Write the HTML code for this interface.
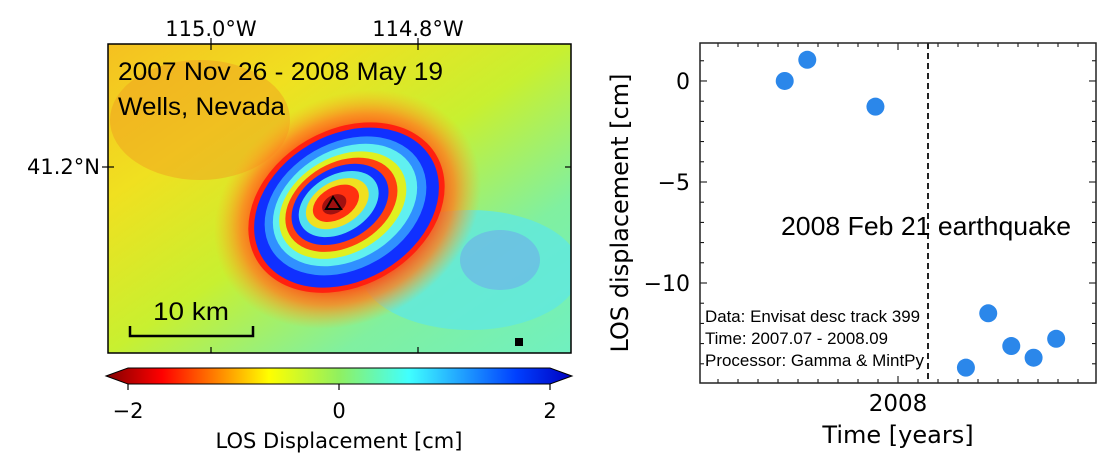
<!DOCTYPE html>
<html><head><meta charset="utf-8">
<style>
body{margin:0;background:#fff;}
svg{display:block;font-family:"DejaVu Sans","Liberation Sans",sans-serif;}
</style></head>
<body>
<svg id="fig" width="1110" height="471" viewBox="0 0 1110 471">
<defs>
  <linearGradient id="bg" x1="0" y1="0" x2="1" y2="1">
    <stop offset="0" stop-color="#f5c020"/>
    <stop offset="0.25" stop-color="#f0e020"/>
    <stop offset="0.5" stop-color="#c8f030"/>
    <stop offset="0.75" stop-color="#80f0a0"/>
    <stop offset="1" stop-color="#70f0c0"/>
  </linearGradient>
  <radialGradient id="halo" cx="0.5" cy="0.5" r="0.5">
    <stop offset="0.6" stop-color="#ff3010"/>
    <stop offset="0.8" stop-color="#ff8020" stop-opacity="0.8"/>
    <stop offset="1" stop-color="#ffb020" stop-opacity="0"/>
  </radialGradient>
  <linearGradient id="jet" x1="0" y1="0" x2="1" y2="0">
    <stop offset="0" stop-color="#800000"/>
    <stop offset="0.12" stop-color="#ff0000"/>
    <stop offset="0.35" stop-color="#ffff00"/>
    <stop offset="0.5" stop-color="#90f060"/>
    <stop offset="0.65" stop-color="#40ffff"/>
    <stop offset="0.88" stop-color="#0040ff"/>
    <stop offset="1" stop-color="#0000c0"/>
  </linearGradient>
  <clipPath id="mapclip"><rect x="108" y="44" width="463" height="309"/></clipPath>
</defs>

<g clip-path="url(#mapclip)">
  <rect x="108" y="44" width="463" height="309" fill="url(#bg)"/>
  <ellipse cx="470" cy="270" rx="110" ry="60" fill="#60e8e0" opacity="0.8"/>
  <ellipse cx="500" cy="260" rx="40" ry="30" fill="#70a0f0" opacity="0.5"/>
  <ellipse cx="200" cy="120" rx="90" ry="60" fill="#f0a020" opacity="0.5"/>
  <g transform="rotate(-30 345 205)">
    <ellipse cx="345" cy="210" rx="140" ry="112" fill="url(#halo)"/>
    <ellipse cx="345" cy="208" rx="104" ry="78" fill="#ff2010"/>
    <ellipse cx="345" cy="208" rx="98" ry="73" fill="#1030ff"/>
    <ellipse cx="345" cy="206" rx="86" ry="63" fill="#3090ff"/>
    <ellipse cx="345" cy="205" rx="77" ry="55" fill="#60f0f0"/>
    <ellipse cx="343" cy="204" rx="68" ry="48" fill="#e0f020"/>
    <ellipse cx="342" cy="203" rx="60" ry="42" fill="#ff4010"/>
    <ellipse cx="341" cy="202" rx="52" ry="36" fill="#1030ff"/>
    <ellipse cx="340" cy="201" rx="43" ry="29" fill="#50e0f0"/>
    <ellipse cx="339" cy="200" rx="34" ry="22" fill="#f0e020"/>
    <ellipse cx="338" cy="199" rx="25" ry="16" fill="#ff3010"/>
    <ellipse cx="336" cy="199" rx="13" ry="9" fill="#a01010"/>
  </g>
</g>
<rect x="108" y="44" width="463" height="309" fill="none" stroke="#000" stroke-width="1.5"/>
<g stroke="#000" stroke-width="1.2">
  <line x1="211" y1="44" x2="211" y2="50"/><line x1="418" y1="44" x2="418" y2="50"/>
  <line x1="211" y1="353" x2="211" y2="347"/><line x1="418" y1="353" x2="418" y2="347"/>
  <line x1="108" y1="167" x2="114" y2="167"/><line x1="571" y1="167" x2="565" y2="167"/>
  <line x1="102" y1="167" x2="108" y2="167"/>
  <line x1="211" y1="38" x2="211" y2="44"/><line x1="418" y1="38" x2="418" y2="44"/>
</g>
<text x="211" y="36" font-size="21" text-anchor="middle">115.0°W</text>
<text x="418" y="36" font-size="21" text-anchor="middle">114.8°W</text>
<text x="100" y="174" font-size="21" text-anchor="end">41.2°N</text>
<text x="118" y="80" font-size="25" font-family="Liberation Sans, sans-serif" textLength="325" lengthAdjust="spacingAndGlyphs">2007 Nov 26 - 2008 May 19</text>
<text x="118" y="115" font-size="25" font-family="Liberation Sans, sans-serif" textLength="167" lengthAdjust="spacingAndGlyphs">Wells, Nevada</text>
<polygon points="333,197 326,209 341,209" fill="none" stroke="#000" stroke-width="2"/>
<g>
  <text x="153" y="320" font-size="25" font-family="Liberation Sans, sans-serif" textLength="76" lengthAdjust="spacingAndGlyphs">10 km</text>
  <polyline points="130,326 130,336 253,336 253,326" fill="none" stroke="#000" stroke-width="2.5"/>
</g>
<rect x="515" y="338" width="8" height="8" fill="#000"/>

<g>
  <polygon points="106,376 128,368 550,368 572,376 550,384 128,384" fill="url(#jet)" stroke="#000" stroke-width="1"/>
  <g stroke="#000" stroke-width="1.2">
    <line x1="128" y1="384" x2="128" y2="390"/><line x1="339" y1="384" x2="339" y2="390"/><line x1="550" y1="384" x2="550" y2="390"/>
  </g>
  <text x="128" y="418" font-size="21" text-anchor="middle">−2</text>
  <text x="339" y="418" font-size="21" text-anchor="middle">0</text>
  <text x="550" y="418" font-size="21" text-anchor="middle">2</text>
  <text x="339" y="448" font-size="21" text-anchor="middle">LOS Displacement [cm]</text>
</g>

<g id="ts"></g>
</svg>
<script>
const years = [2007.528, 2007.622, 2007.906, 2008.283, 2008.376, 2008.472, 2008.565, 2008.659];
const disp = [0, 1.05, -1.27, -14.19, -11.5, -13.12, -13.7, -12.76];
const yTicks = [0, -5, -10];
const yTickLabels = ["0", "−5", "−10"];
const xTicks = [2008];
const xTickLabels = ["2008"];
const quakeYear = 2008.125;

const NS = "http://www.w3.org/2000/svg";
const L = 700, R = 1096, T = 43, B = 383;
const xMin = 2007.175, xMax = 2008.825, yMin = -14.95, yMax = 1.88;
function xs(v){ return L + (v - xMin) / (xMax - xMin) * (R - L); }
function ys(v){ return T + (yMax - v) / (yMax - yMin) * (B - T); }
const g = document.getElementById('ts');
function mk(tag, attrs, parent){
  const e = document.createElementNS(NS, tag);
  for (const k in attrs) e.setAttribute(k, attrs[k]);
  (parent || g).appendChild(e);
  return e;
}
for (let v = 1; v >= -14; v--) {
  const big = v % 5 === 0;
  const len = big ? 7 : 4;
  mk('line', {x1: L, x2: L + len, y1: ys(v), y2: ys(v), stroke: '#000', 'stroke-width': 1});
  mk('line', {x1: R, x2: R - len, y1: ys(v), y2: ys(v), stroke: '#000', 'stroke-width': 1});
}
for (let m = Math.ceil(xMin * 12); m <= Math.floor(xMax * 12); m++) {
  const v = m / 12;
  const big = m % 12 === 0;
  const len = big ? 7 : 4;
  mk('line', {x1: xs(v), x2: xs(v), y1: B, y2: B - len, stroke: '#000', 'stroke-width': 1});
  mk('line', {x1: xs(v), x2: xs(v), y1: T, y2: T + len, stroke: '#000', 'stroke-width': 1});
}
yTicks.forEach((v, i) => {
  const t = mk('text', {x: L - 10, y: ys(v) + 8, 'font-size': 22, 'text-anchor': 'end'});
  t.textContent = yTickLabels[i];
  
  
});
xTicks.forEach((v, i) => {
  const t = mk('text', {x: xs(v), y: 411, 'font-size': 23, 'text-anchor': 'middle'});
  t.textContent = xTickLabels[i];
  
  
});
const ql = mk('line', {x1: xs(quakeYear), x2: xs(quakeYear), y1: T, y2: B, stroke: '#222', 'stroke-width': 2, 'stroke-dasharray': '6,4'});


const qt = mk('text', {x: 781, y: 235, 'font-size': 26, 'font-family': 'Liberation Sans, sans-serif', textLength: 290, lengthAdjust: 'spacingAndGlyphs'});
qt.textContent = '2008 Feb 21 earthquake';


const info = ["Data: Envisat desc track 399", "Time: 2007.07 - 2008.09", "Processor: Gamma & MintPy"];
const infoW = [215, 183, 219];
info.forEach((s, i) => {
  const t = mk('text', {x: 705, y: 322 + i * 22, 'font-size': 17, 'font-family': 'Liberation Sans, sans-serif', textLength: infoW[i], lengthAdjust: 'spacingAndGlyphs'});
  t.textContent = s;
  
  
});
years.forEach((v, i) => {
  const c = mk('circle', {cx: xs(v), cy: ys(disp[i]), r: 9, fill: '#2b87ea'});
  
  
});
const fr = mk('rect', {x: L, y: T, width: R - L, height: B - T, fill: 'none', stroke: '#222', 'stroke-width': 1.5});


const yl = mk('text', {x: 0, y: 0, 'font-size': 24, 'text-anchor': 'middle', transform: 'translate(628 213) rotate(-90)'});
yl.textContent = 'LOS displacement [cm]';


const xl = mk('text', {x: 898, y: 443, 'font-size': 24, 'text-anchor': 'middle'});
xl.textContent = 'Time [years]';


</script>
</body></html>
